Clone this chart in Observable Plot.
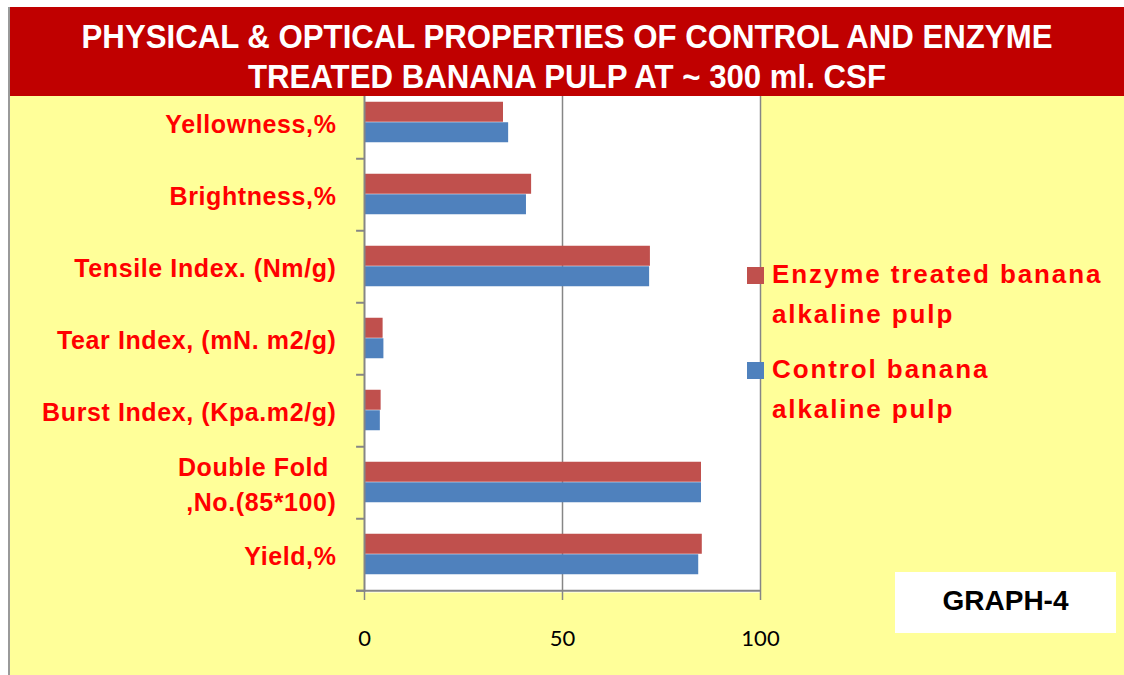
<!DOCTYPE html>
<html><head><meta charset="utf-8">
<script src="https://cdn.jsdelivr.net/npm/d3@7"></script>
<script src="https://cdn.jsdelivr.net/npm/@observablehq/plot@0.6"></script>
<style>
html,body{margin:0;padding:0;background:#fff;}
#wrap{position:relative;width:1124px;height:675px;overflow:hidden;background:#fff;}
#border{position:absolute;left:8px;top:7px;width:2px;height:668px;background:#9a9a9a;}
#chart{position:absolute;left:10px;top:7px;}
#banner{position:absolute;left:10px;top:7px;width:1114px;height:89px;background:#c00000;color:#fff;
  font-family:"Liberation Sans",Arial,sans-serif;font-weight:bold;font-size:33px;}
#banner div{position:absolute;left:0;width:100%;text-align:center;line-height:33px;white-space:nowrap;transform:scaleX(0.945);transform-origin:557px 0;}
.leg{position:absolute;left:772px;font-family:"Liberation Sans",Arial,sans-serif;font-weight:bold;font-size:26px;line-height:26px;color:#ff0000;letter-spacing:1.9px;white-space:nowrap;}
.sw{position:absolute;left:747px;width:17px;height:17px;}
#gbox{position:absolute;left:895px;top:572px;width:221px;height:61px;background:#fff;}
#gbox div{position:absolute;left:0;top:15px;width:100%;text-align:center;font-family:"Liberation Sans",Arial,sans-serif;font-weight:bold;font-size:28px;line-height:28px;color:#000;}
#chart g[aria-label="text"] text{letter-spacing:0.6px;}
</style>
</head><body>
<div id="wrap">
  <div id="chart"></div>
  <div id="border"></div>
  <div id="banner"><div id="t1" style="top:13px"></div><div id="t2" style="top:53px"></div></div>
  <div id="legend"></div>
  <div id="gbox"><div id="gtext"></div></div>
</div>
<script>
const titleLines = ["PHYSICAL & OPTICAL PROPERTIES OF CONTROL AND ENZYME", "TREATED BANANA PULP AT ~ 300 ml. CSF"];
const categories = ["Yellowness,%", "Brightness,%", "Tensile Index. (Nm/g)", "Tear Index, (mN. m2/g)", "Burst Index, (Kpa.m2/g)", "Double Fold \n,No.(85*100)", "Yield,%"];
const enzymeValues = [35.1, 42.2, 72.2, 4.7, 4.2, 85.1, 85.3];
const controlValues = [36.4, 40.9, 72.0, 4.9, 4.0, 85.1, 84.4];
const xTicks = [0, 50, 100];
const seriesLines = [["Enzyme treated banana", "alkaline pulp"], ["Control banana", "alkaline pulp"]];
const seriesColors = ["#c0504d", "#4f81bd"];
const graphLabel = "GRAPH-4";

document.getElementById("t1").textContent = titleLines[0];
document.getElementById("t2").textContent = titleLines[1];
document.getElementById("gtext").textContent = graphLabel;

const enzyme = categories.map((c, i) => ({category: c, value: enzymeValues[i]}));
const control = categories.map((c, i) => ({category: c, value: controlValues[i]}));
const gray = "#868686";

const plot = Plot.plot({
  width: 1114, height: 668,
  marginLeft: 354, marginRight: 364, marginTop: 77.5, marginBottom: 83,
  style: {background: "#ffff99", overflow: "visible"},
  x: {domain: [0, 100]},
  y: {domain: categories, padding: 0, axis: null},
  marks: [
    Plot.frame({fill: "white", stroke: null}),
    Plot.ruleX([50, 100], {stroke: gray, strokeWidth: 1.5}),
    Plot.barX(enzyme, {y: "category", x: "value", fill: seriesColors[0], insetTop: 15.75, insetBottom: 36.25}),
    Plot.barX(control, {y: "category", x: "value", fill: seriesColors[1], insetTop: 36.25, insetBottom: 15.75}),
    Plot.ruleX([0], {stroke: gray, strokeWidth: 2}),
    Plot.ruleY(categories, {y: d => d, x1: -2, x2: 0, dy: 36.25, stroke: gray, strokeWidth: 2}),
    Plot.ruleY([categories[categories.length - 1]], {y: d => d, x1: -2, x2: 100, dy: 36.25, stroke: gray, strokeWidth: 2}),
    Plot.axisX({ticks: xTicks, tickSize: 8, tickPadding: 30, fontSize: 22, fill: "black", stroke: gray, strokeWidth: 1.5, fontFamily: "Lato", label: null}),
    Plot.text(categories, {y: d => d, x: 0, dx: -28, textAnchor: "end", lineHeight: 1.37, fontSize: 25, fontWeight: "bold", fill: "#ff0000", fontFamily: "Liberation Sans"})
  ]
});
document.getElementById("chart").appendChild(plot);

const leg = document.getElementById("legend");
const swTops = [267, 362];
const lineTops = [[261, 301], [356, 396]];
seriesLines.forEach((lines, i) => {
  const sw = document.createElement("div");
  sw.className = "sw"; sw.style.top = swTops[i] + "px"; sw.style.background = seriesColors[i];
  leg.appendChild(sw);
  lines.forEach((t, j) => {
    const d = document.createElement("div");
    d.className = "leg"; d.style.top = lineTops[i][j] + "px"; d.textContent = t;
    leg.appendChild(d);
  });
});
</script>
</body></html>
